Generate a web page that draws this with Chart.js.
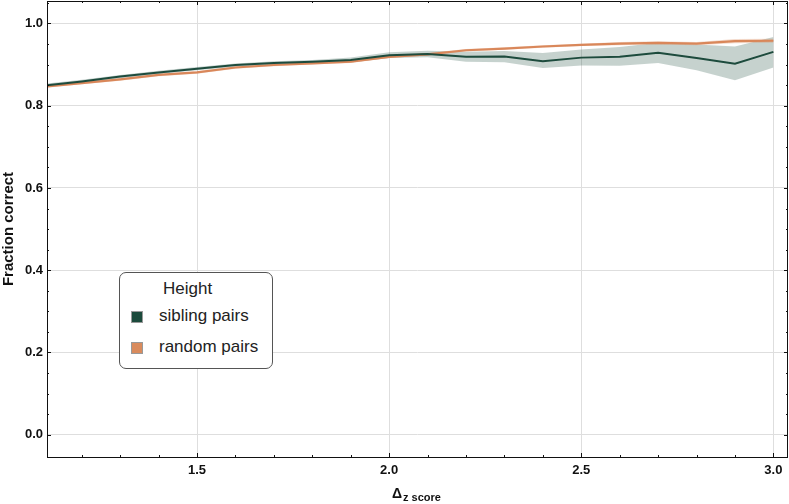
<!DOCTYPE html>
<html>
<head>
<meta charset="utf-8">
<script src="https://cdn.jsdelivr.net/npm/chart.js@4/dist/chart.umd.min.js"></script>
<style>
  html, body { margin: 0; padding: 0; background: #fff; }
  #wrap { position: relative; width: 789px; height: 504px; font-family: 'Liberation Sans', Arial, sans-serif; }
  canvas { position: absolute; left: 0; top: 0; }
  .legend { position: absolute; left: 119px; top: 272px; width: 152px; height: 95px; border: 1px solid #555; border-radius: 7px; background: #fff; }
  .ltxt { position: absolute; font-size: 17px; line-height: 17px; color: #222; white-space: nowrap; }
  .sw { position: absolute; width: 10px; height: 10px; border: 1px solid #999; }
  .xt { position: absolute; font-weight: bold; color: #111; white-space: nowrap; }
</style>
</head>
<body>
<div id="wrap">
  <canvas id="c" width="789" height="504"></canvas>
  <div class="legend"></div>
  <div class="ltxt" style="left:163px; top:280px;">Height</div>
  <div class="sw" style="left:131px; top:311px; background:#1b4a3c;"></div>
  <div class="ltxt" style="left:159px; top:307px;">sibling pairs</div>
  <div class="sw" style="left:131px; top:342px; background:#d98b5d;"></div>
  <div class="ltxt" style="left:159px; top:338px;">random pairs</div>
  <div class="xt" style="left:392px; top:486px; font-size:14px; line-height:14px;">Δ</div>
  <div class="xt" style="left:403px; top:492px; font-size:11px; line-height:11px;">z score</div>
</div>
<script>
// ---- data ----
const xValues = [1.1, 1.2, 1.3, 1.4, 1.5, 1.6, 1.7, 1.8, 1.9, 2.0, 2.1, 2.2, 2.3, 2.4, 2.5, 2.6, 2.7, 2.8, 2.9, 3.0];
const siblingMean = [0.849, 0.859, 0.871, 0.881, 0.890, 0.899, 0.904, 0.907, 0.911, 0.923, 0.926, 0.919, 0.920, 0.908, 0.917, 0.919, 0.929, 0.916, 0.902, 0.931];
const siblingLow  = [0.845, 0.855, 0.867, 0.877, 0.886, 0.895, 0.900, 0.903, 0.905, 0.916, 0.918, 0.907, 0.906, 0.892, 0.898, 0.897, 0.904, 0.886, 0.862, 0.893];
const siblingHigh = [0.853, 0.863, 0.875, 0.885, 0.894, 0.903, 0.908, 0.911, 0.917, 0.930, 0.934, 0.931, 0.933, 0.928, 0.937, 0.943, 0.953, 0.949, 0.944, 0.967];
const randomMean  = [0.846, 0.855, 0.864, 0.875, 0.881, 0.893, 0.899, 0.903, 0.907, 0.919, 0.925, 0.935, 0.939, 0.944, 0.948, 0.951, 0.953, 0.951, 0.957, 0.958];
const randomLow   = [0.843, 0.852, 0.861, 0.872, 0.878, 0.890, 0.896, 0.900, 0.904, 0.916, 0.922, 0.932, 0.936, 0.941, 0.945, 0.947, 0.949, 0.947, 0.952, 0.953];
const randomHigh  = [0.849, 0.858, 0.867, 0.878, 0.884, 0.896, 0.902, 0.906, 0.910, 0.922, 0.928, 0.938, 0.942, 0.947, 0.951, 0.955, 0.957, 0.955, 0.962, 0.963];
const xTicks = [1.5, 2.0, 2.5, 3.0];
const yTicks = [0.0, 0.2, 0.4, 0.6, 0.8, 1.0];

const pts = (ys) => xValues.map((x, i) => ({ x: x, y: ys[i] }));
const FONT = "'Liberation Sans', Arial, sans-serif";

const framePlugin = {
  id: 'frame',
  afterDraw(chart) {
    const { ctx, chartArea: a, scales } = chart;
    const xs = scales.x, ys = scales.y;
    ctx.save();
    ctx.strokeStyle = '#111';
    ctx.lineWidth = 1;
    ctx.beginPath();
    // minor/major ticks x
    for (let k = 11; k <= 30; k++) {
      const v = k / 10;
      const px = Math.round(xs.getPixelForValue(v)) + 0.5;
      if (px < a.left || px > a.right) continue;
      const len = (k % 5 === 0) ? 4 : 2;
      ctx.moveTo(px, a.bottom); ctx.lineTo(px, a.bottom - len);
      ctx.moveTo(px, a.top); ctx.lineTo(px, a.top + len);
    }
    for (let k = 0; k <= 21; k++) {
      const v = k / 20;
      const py = Math.round(ys.getPixelForValue(v)) + 0.5;
      if (py < a.top || py > a.bottom) continue;
      const len = (k % 4 === 0) ? 4 : 2;
      ctx.moveTo(a.left, py); ctx.lineTo(a.left + len, py);
      ctx.moveTo(a.right, py); ctx.lineTo(a.right - len, py);
    }
    ctx.stroke();
    ctx.strokeRect(a.left + 0.5, a.top + 0.5, a.right - a.left - 1, a.bottom - a.top);
    ctx.restore();
  }
};

new Chart(document.getElementById('c'), {
  type: 'line',
  data: {
    datasets: [
      { data: pts(siblingLow), borderWidth: 0, pointRadius: 0, fill: false, order: 6, borderColor: 'rgba(0,0,0,0)' },
      { data: pts(siblingHigh), borderWidth: 0, pointRadius: 0, fill: '-1', order: 5, borderColor: 'rgba(0,0,0,0)', backgroundColor: 'rgba(27,74,60,0.25)' },
      { data: pts(randomLow), borderWidth: 0, pointRadius: 0, fill: false, order: 4, borderColor: 'rgba(0,0,0,0)' },
      { data: pts(randomHigh), borderWidth: 0, pointRadius: 0, fill: '-1', order: 3, borderColor: 'rgba(0,0,0,0)', backgroundColor: 'rgba(217,138,92,0.3)' },
      { label: 'random pairs', data: pts(randomMean), borderColor: '#d9875a', borderWidth: 2.2, pointRadius: 0, fill: false, order: 2 },
      { label: 'sibling pairs', data: pts(siblingMean), borderColor: '#1d4b3d', borderWidth: 2, pointRadius: 0, fill: false, order: 1 }
    ]
  },
  options: {
    responsive: false,
    animation: false,
    devicePixelRatio: 1,
    layout: { padding: { top: 1, right: 1, left: 0, bottom: 0 } },
    plugins: { legend: { display: false }, tooltip: { enabled: false } },
    elements: { line: { tension: 0 } },
    scales: {
      x: {
        type: 'linear',
        min: 1.1096, max: 3.038,
        afterBuildTicks: (s) => { s.ticks = xTicks.map(v => ({ value: v })); },
        afterFit: (s) => { s.height = 47; s.paddingLeft = 0; s.paddingRight = 0; },
        ticks: { callback: (v) => v.toFixed(1), font: { family: FONT, size: 13, weight: 'bold' }, color: '#111', padding: 6, maxRotation: 0 },
        grid: { color: '#dedede', lineWidth: 1, drawTicks: false },
        border: { display: false }
      },
      y: {
        type: 'linear',
        min: -0.0542, max: 1.0547,
        afterBuildTicks: (s) => { s.ticks = yTicks.map(v => ({ value: v })); },
        afterFit: (s) => { s.width = 47; s.paddingTop = 0; s.paddingBottom = 0; },
        ticks: { callback: (v) => v.toFixed(1), font: { family: FONT, size: 13, weight: 'bold' }, color: '#111', padding: 4 },
        grid: { color: '#dedede', lineWidth: 1, drawTicks: false },
        border: { display: false },
        title: { display: true, text: 'Fraction correct', font: { family: FONT, size: 15, weight: 'bold' }, color: '#111', padding: { top: 0, bottom: 0 } }
      }
    }
  },
  plugins: [framePlugin]
});
</script>
</body>
</html>
